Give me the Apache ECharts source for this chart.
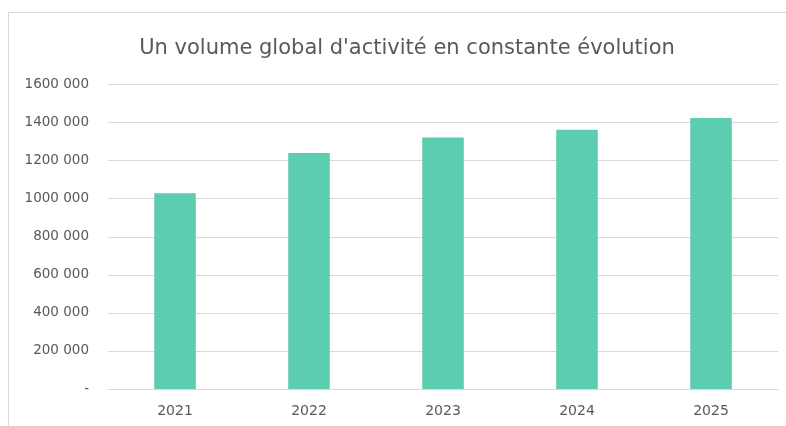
<!DOCTYPE html>
<html><head><meta charset="utf-8">
<script src="https://cdn.jsdelivr.net/npm/echarts@6/dist/echarts.min.js"></script>
<style>html,body{margin:0;padding:0;background:#fff}#c{width:786px;height:426px}</style>
</head><body><div id="c"></div>
<script>
const title = "Un volume global d'activité en constante évolution";
const categories = ['2021', '2022', '2023', '2024', '2025'];
const values = [1028000, 1240000, 1322000, 1362000, 1424000];
const tickLabels = {0: '-', 200000: '200 000', 400000: '400 000', 600000: '600 000', 800000: '800 000',
  1000000: '1000 000', 1200000: '1200 000', 1400000: '1400 000', 1600000: '1600 000'};

const FONT = '"DejaVu Sans", sans-serif';
const chart = echarts.init(document.getElementById('c'), null, {renderer: 'canvas'});
chart.setOption({
  backgroundColor: '#ffffff',
  animation: false,
  graphic: [{type: 'rect', shape: {x: 8.5, y: 12.5, width: 800, height: 430},
    style: {fill: 'none', stroke: '#d9d9d9', lineWidth: 1}, z: -1}],
  title: {text: title, left: 402, textAlign: 'center', top: 33,
    textStyle: {fontFamily: FONT, fontWeight: 'normal', fontSize: 21, color: '#595959'}},
  grid: {left: 108, right: 8, top: 84.5, bottom: 37, containLabel: false},
  xAxis: {type: 'category', data: categories,
    axisLine: {lineStyle: {color: '#d9d9d9'}}, axisTick: {show: false},
    axisLabel: {color: '#595959', fontSize: 14, margin: 15, fontFamily: FONT}},
  yAxis: {type: 'value', min: 0, max: 1600000, interval: 200000,
    splitLine: {lineStyle: {color: '#d9d9d9'}},
    axisLine: {show: false}, axisTick: {show: false},
    axisLabel: {color: '#595959', fontSize: 13.5, margin: 19, fontFamily: FONT,
      formatter: v => tickLabels[v]}},
  series: [{type: 'bar', data: values, barWidth: '31%', itemStyle: {color: '#5ccdae'}}]
});
</script></body></html>
